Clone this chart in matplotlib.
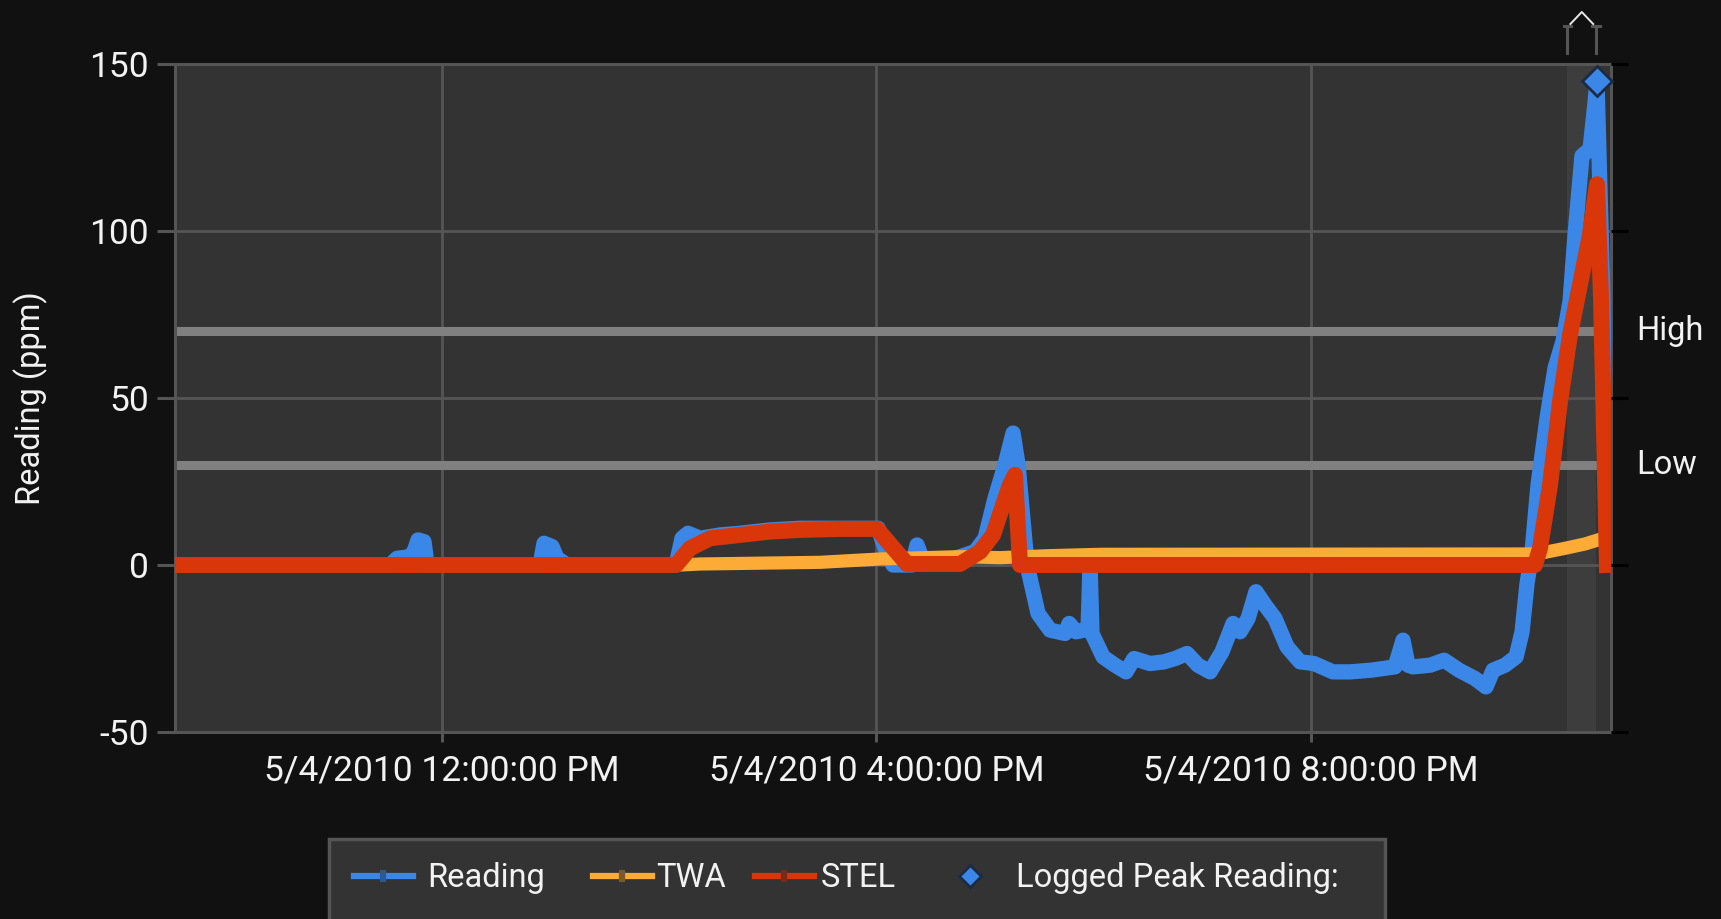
import numpy as np
import matplotlib.pyplot as plt
import matplotlib.transforms as mtransforms
from matplotlib.lines import Line2D
from matplotlib.patches import Rectangle

plt.rcParams['font.family'] = ['Roboto', 'DejaVu Sans']
plt.rcParams['axes.unicode_minus'] = False

# --- data (x = hour of day on 5/4/2010, y = ppm) ---
reading_t = [9.541, 11.521, 11.586, 11.705, 11.742, 11.779, 11.834, 11.862,
             12.902, 12.939, 13.013, 13.059, 13.151, 14.155, 14.210, 14.265,
             14.376, 14.560, 14.744, 15.020, 15.297, 15.665, 16.015, 16.079,
             16.153, 16.328, 16.374, 16.420, 16.540, 16.724, 16.908, 17.000,
             17.092, 17.184, 17.258, 17.304, 17.387, 17.488, 17.599, 17.737,
             17.774, 17.838, 17.912, 17.948, 17.967, 17.985, 18.087, 18.197,
             18.298, 18.372, 18.519, 18.648, 18.750, 18.860, 18.961, 19.072,
             19.182, 19.284, 19.348, 19.422, 19.495, 19.578, 19.670, 19.781,
             19.901, 20.029, 20.204, 20.361, 20.554, 20.775, 20.849, 20.895,
             20.941, 21.098, 21.227, 21.365, 21.512, 21.613, 21.678, 21.788,
             21.890, 21.945, 21.991, 22.037, 22.092, 22.175, 22.249, 22.322,
             22.387, 22.433, 22.497, 22.571, 22.617, 22.635, 22.690, 22.727]
reading_v = [0, 0, 2, 2.5, 4, 7.5, 7, 0,
             0, 6.5, 5.5, 2, 0, 0, 8, 9.5,
             8, 9, 9.5, 10.5, 11, 11, 11, 5,
             0, 0, 6, 2, 1, 2, 4, 8,
             20, 30, 39.5, 30, 0, -14.5, -19.5, -20.5,
             -17.5, -20, -19.5, -19.5, 0, -20.5, -27.5, -30,
             -32, -28, -29.5, -29, -28, -26.5, -30, -32,
             -26, -17.5, -20, -16, -8, -12, -16, -24.5,
             -29, -29.5, -32, -32, -31.5, -30.5, -22.5, -30,
             -30.5, -30, -28.5, -31.5, -34, -36.5, -31.5, -30,
             -27.5, -20, -5.5, 4, 24, 44, 59, 67,
             79, 99, 122.5, 124.5, 138.5, 145, 80, 0]

twa_t = [9.541, 14.192, 14.376, 15.481, 16.033, 16.770, 17.138, 17.599,
         18.059, 22.018, 22.157, 22.341, 22.525, 22.663, 22.764]
twa_v = [0, 0, 0.3, 0.8, 1.8, 2.5, 2.2, 2.8,
         3.2, 3.3, 3.8, 5, 6.3, 7.7, 7.6]

stel_t = [9.541, 14.155, 14.284, 14.468, 14.744, 15.020, 15.297, 15.665,
          16.006, 16.079, 16.282, 16.770, 16.954, 17.074, 17.166, 17.230,
          17.276, 17.322, 22.064, 22.110, 22.203, 22.295, 22.387, 22.479,
          22.571, 22.617, 22.635, 22.672, 22.727]
stel_v = [0, 0, 5, 8, 9, 10, 10.5, 10.8,
          10.8, 8, 0.3, 0.3, 4, 9, 18, 24,
          27, 0, 0, 5, 24, 49, 69, 84,
          99, 110, 114, 80, 0]

peak_t, peak_v = 22.635, 145
high_level, low_level = 70, 30
zoom_start, zoom_end = 22.36, 22.63

x_ticks = [12, 16, 20]
x_labels = ['5/4/2010 12:00:00 PM', '5/4/2010 4:00:00 PM', '5/4/2010 8:00:00 PM']
y_ticks = [-50, 0, 50, 100, 150]

c_read, c_twa, c_stel = '#3a87e8', '#fcab36', '#d9360a'
grid_c = '#555555'
txt_c = '#f2f2f2'

W, H = 1721, 919
fig = plt.figure(figsize=(W / 100, H / 100), dpi=100, facecolor='#111111')
ax = fig.add_axes([175 / W, 1 - 732 / H, (1611 - 175) / W, (732 - 64) / H])
ax.set_facecolor('#333333')

ax.axvspan(zoom_start, zoom_end, color='#3d3d3d', zorder=0.5, lw=0)
ax.set_xlim(9.541, 22.764)
ax.set_ylim(-50, 150)
ax.set_xticks(x_ticks)
ax.set_xticklabels(x_labels)
ax.set_yticks(y_ticks)
ax.grid(True, color=grid_c, lw=2.0, zorder=1)
ax.set_axisbelow(True)
for s in ax.spines.values():
    s.set_color(grid_c)
    s.set_linewidth(2.2)
ax.tick_params(axis='y', colors=grid_c, length=13, width=2.2, pad=6,
               labelsize=25.5, labelcolor=txt_c)
ax.tick_params(axis='x', colors=grid_c, length=7.5, width=2.2, pad=8.5,
               labelsize=25.5, labelcolor=txt_c)

# alarm levels
ax.axhline(high_level, color='#808080', lw=6.5, zorder=1.5)
ax.axhline(low_level, color='#808080', lw=6.5, zorder=1.5)
tr = mtransforms.blended_transform_factory(ax.transAxes, ax.transData)
ax.text(1.0174, high_level, 'High', transform=tr, color=txt_c, fontsize=23.5,
        va='center', ha='left')
ax.text(1.0174, low_level, 'Low', transform=tr, color=txt_c, fontsize=23.5,
        va='center', ha='left')

ax.plot(reading_t, reading_v, color=c_read, lw=11, zorder=3)
ax.plot(twa_t, twa_v, color=c_twa, lw=9.5, zorder=4)
ax.plot(stel_t, stel_v, color=c_stel, lw=11.5, zorder=5)
ax.plot([peak_t], [peak_v], ls='none', marker='D', ms=15, color=c_read,
        mec='#1b2b44', mew=2, zorder=6, clip_on=False)

ax.text(-0.1004, 0.5, 'Reading (ppm)', transform=ax.transAxes, rotation=90,
        ha='center', va='center', color=txt_c, fontsize=23.5)

# black ticks on the right side
ax2 = ax.twinx()
ax2.set_ylim(-50, 150)
ax2.set_yticks(y_ticks)
ax2.tick_params(axis='y', colors='black', length=12.5, width=2.2, labelright=False)
for s in ax2.spines.values():
    s.set_visible(False)

# zoom bracket above the plot, with its caret
bt = mtransforms.blended_transform_factory(ax.transData, fig.transFigure)
y0, y1 = 1 - 53 / H, 1 - 26 / H
for xb in (zoom_start, zoom_end):
    fig.add_artist(Line2D([xb, xb], [y0, y1], transform=bt, color=grid_c, lw=2.2))
fig.add_artist(Line2D([zoom_start - 0.03, zoom_start + 0.04], [y1, y1], transform=bt,
                      color=grid_c, lw=2.2))
fig.add_artist(Line2D([zoom_end - 0.04, zoom_end + 0.03], [y1, y1], transform=bt,
                      color=grid_c, lw=2.2))
mid = (zoom_start + zoom_end) / 2
fig.add_artist(Line2D([zoom_start + 0.03, mid, zoom_end - 0.03],
                      [1 - 24 / H, 1 - 12 / H, 1 - 24 / H], transform=bt,
                      color='#e8e8e8', lw=1.4))

# legend box (runs off the bottom edge)
fig.patches.append(Rectangle((329 / W, -0.05), (1385 - 329) / W, 1 - 839 / H + 0.05,
                             transform=fig.transFigure, facecolor='#333333',
                             edgecolor=grid_c, lw=2.5))
handles = [
    Line2D([], [], color=c_read, lw=4.5, marker='|', ms=9, mew=4.5, mec='#2d5a90'),
    Line2D([], [], color=c_twa, lw=4.5, marker='|', ms=9, mew=4.5, mec='#7a5a2a'),
    Line2D([], [], color=c_stel, lw=4.5, marker='|', ms=9, mew=4.5, mec='#7a2a1a'),
    Line2D([], [], ls='none', marker='D', ms=11, color=c_read, mec='#1b2b44', mew=2),
]
labels = ['Reading', 'TWA', 'STEL', 'Logged Peak Reading:']
starts = [354, 593, 755, 941]
gaps = [0.45, 0.15, 0.2, 0.5]
for h, lab, x0, gp in zip(handles, labels, starts, gaps):
    leg = fig.legend([h], [lab], loc='center left', bbox_to_anchor=(x0 / W, 1 - 878 / H),
                     frameon=False, fontsize=23.5, borderpad=0, borderaxespad=0,
                     handlelength=1.8, handletextpad=gp)
    leg.get_texts()[0].set_color(txt_c)

fig.savefig('out.png', dpi=100, facecolor=fig.get_facecolor())
